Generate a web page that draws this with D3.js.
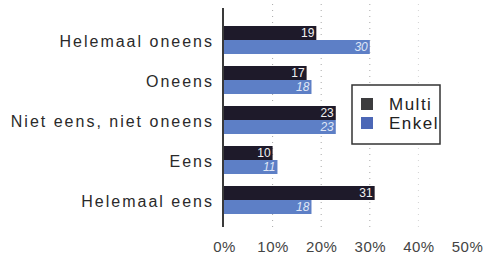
<!DOCTYPE html>
<html>
<head>
<meta charset="utf-8">
<script src="https://cdn.jsdelivr.net/npm/d3@7"></script>
<style>
  body { margin: 0; background: #fff; }
  text { font-family: "Liberation Sans", Arial, sans-serif; }
</style>
</head>
<body>
<script>
const categories = ['Helemaal oneens', 'Oneens', 'Niet eens, niet oneens', 'Eens', 'Helemaal eens'];
const multi = [19, 17, 23, 10, 31];
const enkel = [30, 18, 23, 11, 18];
const series = ['Multi', 'Enkel'];
const ticks = [0, 10, 20, 30, 40, 50];
const gridTicks = [10, 20, 30, 40];

const width = 486;
const height = 256;

const colors = { Multi: '#1e1a2a', Enkel: '#5d7fc6' };
const legendColors = { Multi: '#3c3c3e', Enkel: '#4c67b6' };

const svg = d3.select('body')
    .append('svg')
    .attr('width', width)
    .attr('height', height);

//scales
const xScale = d3.scaleLinear().domain([0, 50]).range([224, 467]);
const yScale = d3.scaleBand().domain(categories).range([20, 220]).paddingInner(0.3).paddingOuter(0.15);
const ySub = d3.scaleBand().domain(series).range([0, yScale.bandwidth()]);

//dotted gridlines
svg.append('g').selectAll('line')
    .data(gridTicks)
    .enter().append('line')
    .attr('x1', d => xScale(d))
    .attr('x2', d => xScale(d))
    .attr('y1', 4)
    .attr('y2', 228)
    .attr('stroke', (d) => d === 40 ? '#d4d4d4' : '#a8a8a8')
    .attr('stroke-width', 1)
    .attr('stroke-dasharray', '1,5');

//bars
const rows = categories.map((c, i) => ({ cat: c, values: [{ s: 'Multi', v: multi[i] }, { s: 'Enkel', v: enkel[i] }] }));

const group = svg.append('g').selectAll('g')
    .data(rows)
    .enter().append('g')
    .attr('transform', d => `translate(0,${yScale(d.cat)})`);

group.selectAll('rect')
    .data(d => d.values)
    .enter().append('rect')
    .attr('x', xScale(0))
    .attr('y', d => ySub(d.s))
    .attr('width', d => xScale(d.v) - xScale(0))
    .attr('height', ySub.bandwidth())
    .attr('fill', d => colors[d.s]);

//value labels inside bar ends
group.selectAll('text')
    .data(d => d.values)
    .enter().append('text')
    .attr('x', d => xScale(d.v) - 2)
    .attr('y', d => ySub(d.s) + ySub.bandwidth() / 2)
    .attr('dy', '0.36em')
    .attr('text-anchor', 'end')
    .style('font-family', '"Liberation Sans Narrow", "Arial Narrow", sans-serif')
    .style('font-size', '12px')
    .style('font-style', d => d.s === 'Enkel' ? 'italic' : 'normal')
    .attr('fill', d => d.s === 'Enkel' ? '#dfe6f6' : '#f2f2f2')
    .text(d => d.v);

//category labels
const yAxis = d3.axisLeft(yScale).tickSize(0).tickPadding(0);
const yAxisG = svg.append('g')
    .attr('transform', `translate(214,0)`)
    .call(yAxis);
yAxisG.select('.domain').remove();
yAxisG.selectAll('text')
    .attr('dy', '0.45em')
    .style('font-size', '16px')
    .style('letter-spacing', '2px')
    .attr('fill', '#2a2a2a');

//left axis line
svg.append('line')
    .attr('x1', xScale(0) - 1)
    .attr('x2', xScale(0) - 1)
    .attr('y1', 8)
    .attr('y2', 227)
    .attr('stroke', '#3a3a3a')
    .attr('stroke-width', 2);

//x tick labels
const xAxis = d3.axisBottom(xScale).tickValues(ticks).tickSize(0).tickPadding(0).tickFormat(d => d + '%');
const xAxisG = svg.append('g')
    .attr('transform', `translate(0,241)`)
    .call(xAxis);
xAxisG.select('.domain').remove();
xAxisG.selectAll('text')
    .style('font-size', '15px')
    .style('letter-spacing', '0.5px')
    .attr('fill', '#444');

//legend
const legend = svg.append('g').attr('transform', 'translate(352,85)');

legend.append('rect')
    .attr('width', 88)
    .attr('height', 59)
    .attr('fill', '#fff')
    .attr('stroke', '#333')
    .attr('stroke-width', 1.5);

const legendRow = d3.scaleBand().domain(series).range([12, 50]);

legend.selectAll('.swatch')
    .data(series)
    .enter().append('rect')
    .attr('class', 'swatch')
    .attr('x', 9)
    .attr('y', d => legendRow(d) + 1)
    .attr('width', 12)
    .attr('height', 12)
    .attr('fill', d => legendColors[d]);

legend.selectAll('.label')
    .data(series)
    .enter().append('text')
    .attr('class', 'label')
    .attr('x', 37)
    .attr('y', d => legendRow(d) + 13)
    .style('font-size', '17px')
    .style('letter-spacing', '1.5px')
    .attr('fill', '#222')
    .text(d => d);
</script>
</body>
</html>
